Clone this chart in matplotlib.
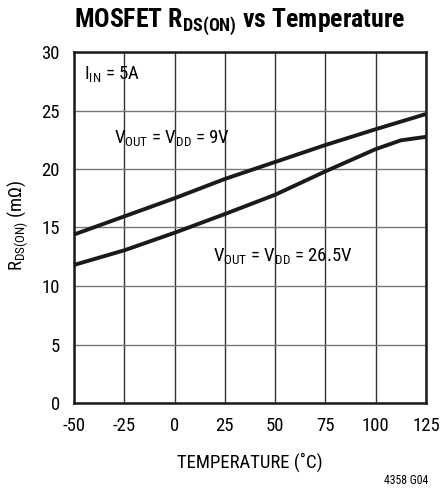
import matplotlib
matplotlib.use("Agg")
import matplotlib.pyplot as plt
from matplotlib import font_manager

names = {f.name for f in font_manager.fontManager.ttflist}
FAM = 'Liberation Sans'
for cand in ['Roboto Condensed', 'Archivo Narrow', 'Arial Narrow', 'Liberation Sans Narrow',
             'Fira Sans Condensed', 'Barlow Semi Condensed', 'Asap Condensed']:
    if cand in names:
        FAM = cand
        break
plt.rcParams['font.family'] = [FAM, 'DejaVu Sans']
plt.rcParams['mathtext.default'] = 'regular'

# Data
temp_9v = [-50, -25, 0, 25, 50, 75, 100, 125]
rds_9v = [14.4, 15.95, 17.5, 19.15, 20.6, 22.05, 23.4, 24.7]
temp_265v = [-50, -25, 0, 25, 50, 75, 100, 112.5, 125]
rds_265v = [11.8, 13.05, 14.55, 16.15, 17.8, 19.8, 21.7, 22.45, 22.75]
xticks = [-50, -25, 0, 25, 50, 75, 100, 125]
yticks = [0, 5, 10, 15, 20, 25, 30]

fig = plt.figure(figsize=(4.41, 4.90), dpi=100)
ax = fig.add_axes([74/441, 1-403/490, 352/441, 351/490])
ax.plot(temp_9v, rds_9v, color='#1a1a1a', lw=2.8, solid_capstyle='butt', zorder=3, clip_on=False)
ax.plot(temp_265v, rds_265v, color='#1a1a1a', lw=2.8, solid_capstyle='butt', zorder=3, clip_on=False)

ax.set_xlim(-50, 125)
ax.set_ylim(0, 30)
ax.set_xticks(xticks)
ax.set_yticks(yticks)
ax.set_xticklabels([str(t) for t in xticks], fontsize=13.5)
ax.set_yticklabels([str(t) for t in yticks], fontsize=13.5)
ax.tick_params(axis='x', length=0, pad=10)
ax.tick_params(axis='y', length=0, pad=10)
ax.grid(True, axis='x', color='#333333', lw=1.0)
ax.grid(True, axis='y', color='#777777', lw=1.0)
ax.set_axisbelow(True)
for s in ax.spines.values():
    s.set_linewidth(1.8)
    s.set_color('#1a1a1a')

ax.text(-45, 28.1, r'$I_{IN}$ = 5A', fontsize=13.5, va='center', ha='left')
ax.text(-30, 22.65, r'$V_{OUT}$ = $V_{DD}$ = 9V', fontsize=13.5, va='center', ha='left')
ax.text(19, 12.55, r'$V_{OUT}$ = $V_{DD}$ = 26.5V', fontsize=13.5, va='center', ha='left')

fig.text(18/441, 1-225/490, r'$R_{DS(ON)}$ (m$\Omega$)', rotation=90, fontsize=13.5,
         ha='center', va='center')
fig.text(250/441, 1-462/490, 'TEMPERATURE (˚C)', fontsize=13.5, ha='center', va='center')
fig.text(428/441, 1-480/490, '4358 G04', fontsize=8.5, ha='right', va='center')
fig.text(240/441, 1-22/490, r'MOSFET $R_{DS(ON)}$ vs Temperature', fontsize=18.5,
         fontweight='bold', ha='center', va='center')

fig.savefig('out.png', dpi=100)
